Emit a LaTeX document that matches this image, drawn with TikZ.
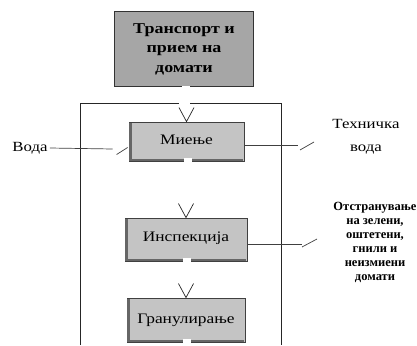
\documentclass[tikz,border=0pt]{standalone}
\usepackage{fontspec}
\setmainfont{Liberation Serif}
\newfontfamily\widefont[FakeStretch=1.2]{Liberation Serif}
\begin{document}
\begin{tikzpicture}[x=1pt,y=-1pt,
  topbox/.style={draw=black!80, line width=1.8pt, fill=black!35, minimum width=139pt, minimum height=75pt, inner sep=0pt, align=center,
    font=\widefont\bfseries\fontsize{15}{19.5}\selectfont},
  procbox/.style={draw=black!75, line width=0.8pt, fill=black!23, inner sep=0pt,
    font=\widefont\fontsize{14.5}{16}\selectfont},
  shadeline/.style={draw=black!60, line width=2.6pt},
  notch/.style={fill=white},
  chev/.style={draw=black!85, line width=0.7pt},
  frameline/.style={draw=black!85, line width=0.8pt},
  sideline/.style={draw=black!75, line width=0.7pt},
  sidetext/.style={font=\widefont\fontsize{14}{23}\selectfont, align=center, inner sep=2pt},
  remtext/.style={font=\bfseries\fontsize{12.5}{14}\selectfont, align=center, inner sep=0pt}
]
\useasboundingbox (0,0) rectangle (417,345);

% frame
\draw[frameline] (80,345) -- (80,103) -- (179,103);
\draw[frameline] (190,103) -- (281,103) -- (281,345);

% boxes
\node[topbox] (t) at (184,49) {\raisebox{5pt}{\begin{tabular}{@{}c@{}}Транспорт и\\прием на\\домати\end{tabular}}};
\fill[notch] ([xshift=-2pt,yshift=-2pt]t.south) rectangle ([xshift=6pt,yshift=1.5pt]t.south);

\node[procbox, minimum width=115pt, minimum height=39pt] (m) at (186.5,141.5) {\raisebox{3pt}{Миење}};
\node[procbox, minimum width=122pt, minimum height=43pt] (i) at (186,239.5) {\raisebox{6pt}{Инспекција}};
\node[procbox, minimum width=118pt, minimum height=44pt] (g) at (186,320) {\raisebox{3pt}{Гранулирање}};

\foreach \n in {m,i,g} {
  \draw[shadeline] ([xshift=1.6pt,yshift=-1pt]\n.north west) -- ([xshift=1.6pt,yshift=1.6pt]\n.south west) -- ([xshift=-1pt,yshift=1.6pt]\n.south east);
  \fill[notch] ([xshift=-3pt,yshift=-1pt]\n.south) rectangle ([xshift=5pt,yshift=3.4pt]\n.south);
  \draw[chev] ([xshift=-7.5pt,yshift=14pt]\n.north) -- (\n.north) -- ([xshift=7.5pt,yshift=14pt]\n.north);
}

% side texts
\node[sidetext] (voda) at (30,148) {Вода};
\node[sidetext] (tv) at (366,136.5) {Техничка\\вода};
\node[remtext] (rem) at (375,242) {Отстранување\\на зелени,\\оштетени,\\гнили и\\неизмиени\\домати};

% side connectors
\draw[sideline] (voda.east) -- ([xshift=-16pt,yshift=-7.5pt]m.west);
\draw[sideline] ([xshift=-12pt,yshift=-13pt]m.west) -- ([xshift=-1pt,yshift=-6pt]m.west);

\coordinate (tvend) at (298,145);
\draw[sideline] ([yshift=-3.5pt]m.east) -- (tvend);
\draw[sideline] ([xshift=2pt,yshift=-5pt]tvend) -- ([xshift=16pt,yshift=3pt]tvend);

\coordinate (remend) at (302,244);
\draw[sideline] ([yshift=-4.5pt]i.east) -- (remend);
\draw[sideline] ([yshift=-3pt]remend) -- ([xshift=15pt,yshift=5pt]remend);
\end{tikzpicture}
\end{document}
